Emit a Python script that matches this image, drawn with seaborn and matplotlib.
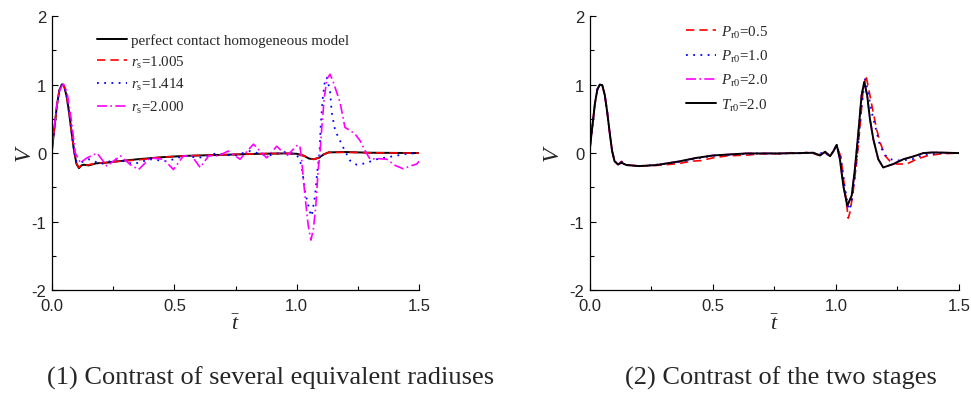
import matplotlib
matplotlib.use("Agg")
import matplotlib.pyplot as plt
import numpy as np
import pandas as pd
import seaborn as sns
from matplotlib.ticker import MultipleLocator

# ---- panel (1): several equivalent radiuses ----
t_homo = [0, 0.01, 0.02, 0.03, 0.04, 0.045, 0.05, 0.06, 0.07, 0.08, 0.09, 0.1, 0.11, 0.12, 0.13, 0.15,
          0.18, 0.22, 0.27, 0.35, 0.45, 0.55, 0.65, 0.75, 0.85, 0.95, 1.0, 1.03, 1.05, 1.07, 1.09, 1.11,
          1.13, 1.2, 1.3, 1.5]
v_homo = [0.05, 0.38, 0.7, 0.92, 1.0, 1.0, 0.97, 0.82, 0.58, 0.3, 0.03, -0.16, -0.22, -0.18, -0.17, -0.18,
          -0.15, -0.14, -0.12, -0.09, -0.06, -0.04, -0.03, -0.02, -0.01, -0.005, -0.01, -0.04, -0.08, -0.09,
          -0.07, -0.02, 0.01, 0.015, 0.005, 0.0]

t_r1005 = [0, 0.01, 0.02, 0.03, 0.04, 0.045, 0.05, 0.06, 0.07, 0.08, 0.09, 0.1, 0.11, 0.12, 0.13, 0.15,
           0.18, 0.22, 0.27, 0.35, 0.45, 0.55, 0.65, 0.75, 0.85, 0.95, 1.0, 1.03, 1.05, 1.07, 1.09, 1.11,
           1.13, 1.2, 1.3, 1.5]
v_r1005 = [0.05, 0.37, 0.69, 0.92, 1.0, 1.0, 0.97, 0.83, 0.59, 0.31, 0.04, -0.15, -0.21, -0.18, -0.18, -0.17,
           -0.15, -0.14, -0.12, -0.1, -0.06, -0.04, -0.03, -0.02, -0.01, -0.005, -0.01, -0.04, -0.08, -0.09,
           -0.07, -0.02, 0.01, 0.012, 0.004, 0.0]

t_r1414 = [0, 0.01, 0.02, 0.03, 0.04, 0.045, 0.05, 0.06, 0.07, 0.08, 0.09, 0.1, 0.11, 0.15, 0.2, 0.265,
           0.333, 0.4, 0.47, 0.54, 0.6, 0.67, 0.74, 0.81, 0.88, 0.95, 1.0, 1.02, 1.034, 1.054, 1.061, 1.075,
           1.085, 1.093, 1.098, 1.106, 1.116, 1.123, 1.136, 1.143, 1.157, 1.177, 1.197, 1.218, 1.245, 1.279,
           1.327, 1.388, 1.45, 1.5]
v_r1414 = [0.05, 0.38, 0.7, 0.92, 1.0, 1.0, 0.97, 0.82, 0.58, 0.3, 0.03, -0.13, -0.15, -0.09, -0.16, -0.09,
           -0.16, -0.09, -0.12, -0.04, -0.07, -0.005, -0.04, 0.03, -0.04, 0.015, -0.02, -0.18, -0.57, -0.86,
           -0.92, -0.62, -0.23, 0.0, 0.4, 0.79, 1.08, 1.1, 0.91, 0.59, 0.33, 0.18, 0.03, -0.11, -0.17, -0.15,
           -0.09, -0.05, -0.01, 0.0]

t_r2000 = [0, 0.01, 0.02, 0.03, 0.04, 0.048, 0.06, 0.07, 0.08, 0.095, 0.116, 0.143, 0.184, 0.224, 0.279,
           0.32, 0.354, 0.401, 0.456, 0.496, 0.537, 0.571, 0.605, 0.64, 0.68, 0.72, 0.768, 0.823, 0.877,
           0.918, 0.959, 1.004, 1.013, 1.02, 1.027, 1.038, 1.047, 1.058, 1.068, 1.078, 1.088, 1.095, 1.102,
           1.112, 1.123, 1.136, 1.15, 1.163, 1.177, 1.197, 1.218, 1.238, 1.259, 1.283, 1.3, 1.327, 1.368,
           1.402, 1.436, 1.463, 1.49, 1.5]
v_r2000 = [0.1, 0.4, 0.7, 0.9, 0.98, 1.0, 0.9, 0.7, 0.45, 0.0, -0.14, -0.07, 0.0, -0.19, -0.04, -0.17,
           -0.24, -0.07, -0.09, -0.24, -0.04, -0.04, -0.21, -0.04, -0.04, 0.03, -0.09, 0.13, -0.07, 0.1,
           -0.04, 0.12, 0.1, -0.09, -0.38, -0.77, -1.06, -1.27, -1.11, -0.77, -0.23, 0.0, 0.35, 0.79, 1.08,
           1.15, 1.03, 0.89, 0.74, 0.375, 0.33, 0.28, 0.18, 0.01, -0.09, -0.08, -0.09, -0.18, -0.23, -0.19,
           -0.16, -0.12]

# ---- panel (2): the two stages ----
t_p05 = [0, 0.01, 0.02, 0.03, 0.04, 0.05, 0.06, 0.07, 0.08, 0.09, 0.1, 0.114, 0.128, 0.148, 0.2, 0.27,
         0.31, 0.365, 0.41, 0.45, 0.5, 0.56, 0.637, 0.7, 0.772, 0.82, 0.854, 0.88, 0.908, 0.928, 0.948, 0.976,
         0.99, 1.003, 1.02, 1.035, 1.05, 1.058, 1.07, 1.085, 1.098, 1.11, 1.122, 1.135, 1.15, 1.165, 1.18,
         1.2, 1.22, 1.247, 1.287, 1.328, 1.37, 1.43, 1.5]
v_p05 = [0.08, 0.4, 0.72, 0.93, 1.0, 0.99, 0.85, 0.6, 0.3, 0.03, -0.12, -0.17, -0.12, -0.17, -0.19, -0.18,
         -0.17, -0.15, -0.12, -0.11, -0.07, -0.04, -0.03, -0.01, -0.01, 0.005, -0.005, 0.01, -0.005, -0.03,
         0.02, -0.045, 0.03, 0.12, -0.06, -0.5, -0.95, -0.85, -0.55, -0.1, 0.4, 0.9, 1.13, 0.9, 0.62, 0.35,
         0.15, -0.04, -0.12, -0.16, -0.16, -0.09, -0.04, -0.01, 0.0]

t_p10 = [0, 0.01, 0.02, 0.03, 0.04, 0.05, 0.06, 0.07, 0.08, 0.09, 0.1, 0.114, 0.128, 0.148, 0.2, 0.27,
         0.365, 0.433, 0.5, 0.637, 0.772, 0.854, 0.908, 0.928, 0.948, 0.976, 0.99, 1.003, 1.02, 1.035, 1.052,
         1.062, 1.075, 1.09, 1.103, 1.118, 1.13, 1.145, 1.159, 1.179, 1.2, 1.22, 1.26, 1.31, 1.36, 1.42, 1.5]
v_p10 = [0.08, 0.4, 0.72, 0.93, 1.0, 0.99, 0.85, 0.6, 0.3, 0.03, -0.12, -0.16, -0.13, -0.17, -0.19, -0.17,
         -0.13, -0.08, -0.04, -0.01, -0.005, 0.0, 0.005, -0.03, 0.02, -0.045, 0.03, 0.12, -0.07, -0.48, -0.83,
         -0.75, -0.4, 0.1, 0.65, 1.09, 0.9, 0.6, 0.4, 0.11, -0.03, -0.09, -0.11, -0.09, -0.02, 0.0, 0.0]

t_p20 = [0, 0.01, 0.02, 0.03, 0.04, 0.05, 0.06, 0.07, 0.08, 0.09, 0.1, 0.114, 0.128, 0.148, 0.2, 0.27,
         0.365, 0.433, 0.5, 0.637, 0.772, 0.854, 0.908, 0.935, 0.956, 0.976, 0.99, 1.003, 1.016, 1.03, 1.046,
         1.064, 1.077, 1.091, 1.104, 1.115, 1.127, 1.138, 1.152, 1.172, 1.192, 1.233, 1.274, 1.314, 1.355,
         1.396, 1.5]
v_p20 = [0.08, 0.4, 0.72, 0.93, 1.0, 0.99, 0.85, 0.6, 0.3, 0.03, -0.12, -0.165, -0.14, -0.175, -0.19, -0.175,
         -0.12, -0.07, -0.035, -0.005, -0.005, 0.0, 0.005, -0.035, 0.02, -0.045, 0.03, 0.12, -0.09, -0.48,
         -0.77, -0.62, -0.23, 0.3, 0.84, 1.04, 0.84, 0.5, 0.2, -0.09, -0.21, -0.16, -0.09, -0.05, 0.0, 0.01, 0.0]

t_t20 = [0, 0.01, 0.02, 0.03, 0.04, 0.05, 0.06, 0.07, 0.08, 0.09, 0.1, 0.114, 0.128, 0.148, 0.2, 0.27,
         0.365, 0.433, 0.5, 0.637, 0.772, 0.854, 0.908, 0.935, 0.956, 0.976, 0.99, 1.003, 1.016, 1.03, 1.046,
         1.064, 1.077, 1.091, 1.104, 1.115, 1.127, 1.138, 1.152, 1.172, 1.192, 1.233, 1.274, 1.314, 1.355,
         1.396, 1.5]
v_t20 = [0.08, 0.4, 0.72, 0.93, 1.0, 0.99, 0.85, 0.6, 0.3, 0.03, -0.12, -0.165, -0.14, -0.175, -0.19, -0.175,
         -0.12, -0.07, -0.035, -0.005, -0.005, 0.0, 0.005, -0.035, 0.02, -0.045, 0.03, 0.12, -0.09, -0.48,
         -0.77, -0.62, -0.23, 0.3, 0.84, 1.04, 0.84, 0.5, 0.2, -0.09, -0.21, -0.16, -0.09, -0.05, 0.0, 0.01, 0.0]

left_series = [
    (t_homo, v_homo, "perfect contact homogeneous model", "black", "-", 1.4),
    (t_r1005, v_r1005, r"$r_{\mathrm{s}}$=1.005", "red", (0, (5, 3)), 1.2),
    (t_r1414, v_r1414, r"$r_{\mathrm{s}}$=1.414", "blue", (0, (1, 3)), 1.3),
    (t_r2000, v_r2000, r"$r_{\mathrm{s}}$=2.000", "magenta", (0, (6, 2, 1, 2)), 1.2),
]
right_series = [
    (t_p05, v_p05, r"$P_{\mathrm{r0}}$=0.5", "red", (0, (5, 3)), 1.2),
    (t_p10, v_p10, r"$P_{\mathrm{r0}}$=1.0", "blue", (0, (1, 3)), 1.3),
    (t_p20, v_p20, r"$P_{\mathrm{r0}}$=2.0", "magenta", (0, (6, 2, 1, 2)), 1.2),
    (t_t20, v_t20, r"$T_{\mathrm{r0}}$=2.0", "black", "-", 1.4),
]

sns.set_style("ticks")
plt.rcParams["font.family"] = ["Liberation Sans", "DejaVu Sans"]
plt.rcParams["mathtext.fontset"] = "custom"
plt.rcParams["mathtext.rm"] = "Liberation Serif"
plt.rcParams["mathtext.it"] = "Liberation Serif:italic"

fig = plt.figure(figsize=(9.71, 4.06), dpi=100)
ax1 = fig.add_axes([0.0536, 0.283, 0.378, 0.675])
ax2 = fig.add_axes([0.6076, 0.283, 0.380, 0.675])


def draw(ax, series, leg_anchor, spacing, vx):
    for t, v, lab, col, ls, lw in series:
        d = pd.DataFrame({"t": t, "V": v})
        sns.lineplot(data=d, x="t", y="V", ax=ax, color=col, linestyle=ls, linewidth=lw,
                     label=lab, estimator=None, sort=False)
    ax.set_xlim(0, 1.5)
    ax.set_ylim(-2, 2)
    ax.xaxis.set_minor_locator(MultipleLocator(0.25))
    ax.yaxis.set_minor_locator(MultipleLocator(0.5))
    ax.set_xticks([0, 0.5, 1.0, 1.5], ["0.0", "0.5", "1.0", "1.5"])
    ax.set_yticks([-2, -1, 0, 1, 2], ["-2", "-1", "0", "1", "2"])
    ax.tick_params(which="both", direction="in", labelsize=12, color="black", width=0.8)
    ax.tick_params(which="major", length=4)
    ax.tick_params(which="minor", length=3)
    ax.tick_params(axis="x", pad=5.5)
    ax.tick_params(axis="y", pad=4)
    sns.despine(ax=ax)
    for s in ("left", "bottom"):
        ax.spines[s].set_color("black")
        ax.spines[s].set_linewidth(0.9)
    ax.set_xlabel(r"$\bar{t}$", fontsize=16)
    ax.xaxis.set_label_coords(0.5, -0.085)
    ax.set_ylabel(r"$V$", fontsize=17)
    ax.yaxis.set_label_coords(vx, 0.5)
    ax.legend(loc="upper left", bbox_to_anchor=leg_anchor, frameon=False,
              prop={"family": "Liberation Serif", "size": 10.8},
              handlelength=2.0, handletextpad=0.3, labelspacing=spacing, borderaxespad=0)


draw(ax1, left_series, (0.105, 0.96), 0.45, -0.045)
draw(ax2, right_series, (0.245, 0.995), 0.55, -0.07)

fig.text(271 / 971, 1 - 378 / 406, "(1) Contrast of several equivalent radiuses",
         family="Liberation Serif", fontsize=19, ha="center", va="center")
fig.text(781 / 971, 1 - 378 / 406, "(2) Contrast of the two stages",
         family="Liberation Serif", fontsize=19, ha="center", va="center")

fig.savefig("out.png", dpi=100)
